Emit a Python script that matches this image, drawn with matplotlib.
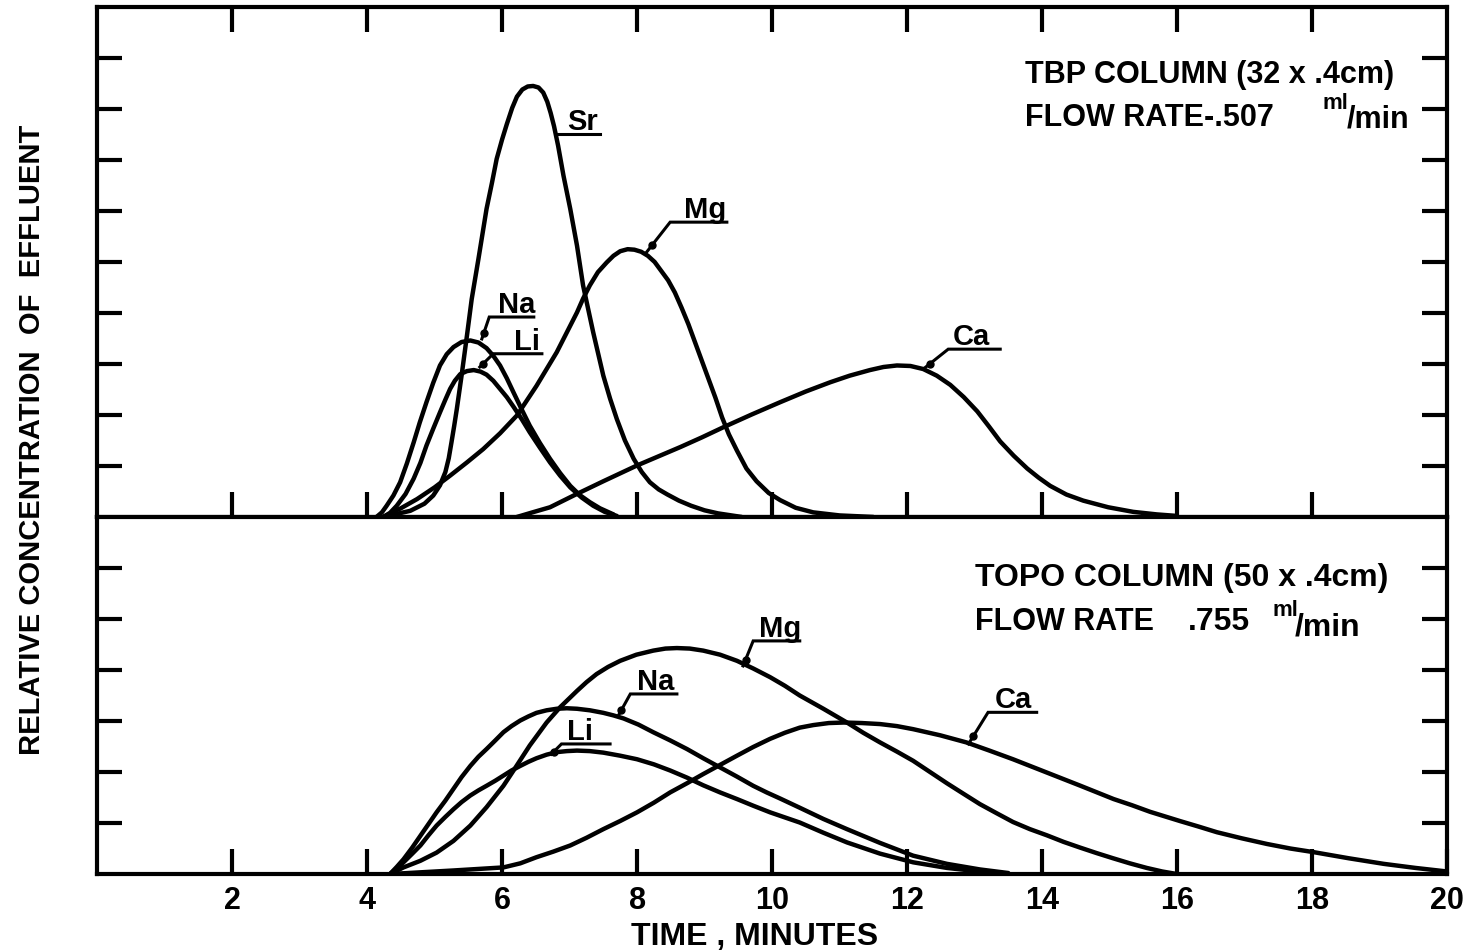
import matplotlib.pyplot as plt

plt.rcParams['font.family'] = ['Liberation Sans', 'DejaVu Sans']
plt.rcParams['font.weight'] = 'bold'

# --- TBP column (32 x .4 cm), flow rate .507 ml/min ---
# time in minutes, relative concentration in chart units
tbp_sr_t = [4.24, 4.64, 4.85, 4.98, 5.08, 5.16, 5.21, 5.25, 5.29, 5.33, 5.40, 5.48, 5.55,
            5.65, 5.77, 5.85, 5.92, 6.00, 6.07, 6.15, 6.22, 6.30, 6.38, 6.46, 6.54, 6.61,
            6.67, 6.72, 6.77, 6.83, 6.91, 7.01, 7.11, 7.20, 7.35, 7.50, 7.60, 7.70, 7.82,
            7.95, 8.07, 8.19, 8.32, 8.45, 8.62, 8.80, 9.00, 9.20, 9.55]
tbp_sr_c = [0.0, 0.12, 0.26, 0.42, 0.62, 0.88, 1.15, 1.46, 1.78, 2.12, 2.77, 3.56, 4.27,
            5.06, 6.04, 6.55, 7.02, 7.40, 7.70, 8.02, 8.24, 8.38, 8.44, 8.45, 8.42, 8.32,
            8.14, 7.92, 7.66, 7.28, 6.69, 6.04, 5.32, 4.54, 3.62, 2.77, 2.32, 1.92, 1.50,
            1.14, 0.88, 0.68, 0.54, 0.44, 0.32, 0.22, 0.13, 0.07, 0.0]

tbp_mg_t = [4.24, 4.50, 4.74, 5.00, 5.23, 5.48, 5.72, 5.97, 6.22, 6.51, 6.81, 6.96, 7.11,
            7.20, 7.30, 7.42, 7.55, 7.65, 7.75, 7.86, 7.96, 8.06, 8.16, 8.26, 8.36, 8.46,
            8.56, 8.66, 8.76, 8.86, 8.96, 9.06, 9.16, 9.26, 9.36, 9.48, 9.62, 9.77, 9.95,
            10.12, 10.35, 10.61, 11.0, 11.5]
tbp_mg_c = [0.0, 0.17, 0.35, 0.58, 0.81, 1.07, 1.33, 1.64, 1.99, 2.57, 3.23, 3.62, 4.01,
            4.28, 4.54, 4.80, 4.99, 5.12, 5.21, 5.25, 5.24, 5.20, 5.12, 5.00, 4.82, 4.64,
            4.40, 4.10, 3.78, 3.42, 3.06, 2.70, 2.34, 1.95, 1.62, 1.30, 0.95, 0.70, 0.47,
            0.33, 0.18, 0.09, 0.03, 0.0]

tbp_na_t = [4.14, 4.22, 4.29, 4.39, 4.49, 4.59, 4.69, 4.78, 4.88, 4.98, 5.08, 5.18, 5.28,
            5.40, 5.53, 5.65, 5.77, 5.87, 5.97, 6.07, 6.17, 6.29, 6.41, 6.56, 6.71, 6.86,
            7.01, 7.15, 7.30, 7.45, 7.65]
tbp_na_c = [0.0, 0.09, 0.22, 0.42, 0.68, 1.05, 1.46, 1.85, 2.25, 2.63, 2.97, 3.19, 3.33,
            3.43, 3.46, 3.42, 3.31, 3.16, 2.97, 2.72, 2.44, 2.11, 1.79, 1.45, 1.14, 0.86,
            0.61, 0.43, 0.29, 0.17, 0.05]

tbp_li_t = [4.24, 4.34, 4.44, 4.57, 4.69, 4.79, 4.88, 4.98, 5.08, 5.16, 5.23, 5.30, 5.38,
            5.48, 5.58, 5.68, 5.77, 5.87, 5.97, 6.07, 6.17, 6.29, 6.41, 6.56, 6.71, 6.86,
            7.01, 7.18, 7.35, 7.52, 7.70]
tbp_li_c = [0.0, 0.08, 0.22, 0.45, 0.75, 1.06, 1.40, 1.73, 2.05, 2.30, 2.51, 2.67, 2.80,
            2.86, 2.88, 2.85, 2.79, 2.67, 2.51, 2.35, 2.16, 1.92, 1.66, 1.36, 1.07, 0.81,
            0.58, 0.38, 0.22, 0.10, 0.02]

tbp_ca_t = [6.22, 6.45, 6.71, 7.06, 7.50, 8.00, 8.32, 8.64, 8.96, 9.28, 9.70, 10.12, 10.50,
            10.86, 11.15, 11.45, 11.65, 11.85, 12.05, 12.24, 12.44, 12.64, 12.84, 13.04,
            13.21, 13.38, 13.58, 13.78, 13.95, 14.12, 14.36, 14.61, 14.98, 15.35, 15.70,
            16.0]
tbp_ca_c = [0.0, 0.09, 0.19, 0.42, 0.70, 1.01, 1.19, 1.37, 1.56, 1.76, 2.01, 2.25, 2.46,
            2.64, 2.77, 2.88, 2.94, 2.97, 2.96, 2.90, 2.77, 2.59, 2.35, 2.07,
            1.78, 1.48, 1.20, 0.95, 0.77, 0.61, 0.44, 0.32, 0.19, 0.10, 0.05,
            0.02]

# --- TOPO column (50 x .4 cm), flow rate .755 ml/min ---
topo_mg_t = [4.34, 4.54, 4.79, 5.03, 5.28, 5.53, 5.77, 6.02, 6.17, 6.41, 6.66, 6.86, 7.11,
             7.25, 7.40, 7.57, 7.75, 7.99, 8.24, 8.42, 8.59, 8.78, 8.98, 9.23, 9.48, 9.72,
             9.97, 10.19, 10.41, 10.76, 11.11, 11.35, 11.60, 11.85, 12.09, 12.34, 12.59,
             12.84, 13.08, 13.33, 13.57, 13.82, 14.07, 14.32, 14.56, 14.81, 15.05, 15.30,
             15.55, 15.78, 16.0]
topo_mg_c = [0.0, 0.13, 0.26, 0.42, 0.65, 0.95, 1.31, 1.73, 2.03, 2.52, 2.97, 3.27, 3.59,
             3.76, 3.92, 4.06, 4.18, 4.30, 4.38, 4.42, 4.43, 4.42, 4.38, 4.30, 4.18, 4.03,
             3.86, 3.69, 3.50, 3.24, 2.97, 2.77, 2.58, 2.40, 2.22, 2.00, 1.78,
             1.57, 1.37, 1.19, 1.02, 0.88, 0.76, 0.63, 0.52, 0.41, 0.31, 0.21,
             0.12, 0.05, 0.0]

topo_na_t = [4.34, 4.44, 4.54, 4.67, 4.79, 4.91, 5.03, 5.16, 5.28, 5.40, 5.53, 5.65, 5.77,
             5.90, 6.02, 6.14, 6.27, 6.39, 6.51, 6.66, 6.81, 6.96, 7.11, 7.30, 7.50, 7.65,
             7.80, 8.02, 8.24, 8.49, 8.74, 8.98, 9.23, 9.48, 9.72, 9.92, 10.12, 10.41,
             10.76, 11.11, 11.60, 12.09, 12.59, 13.08, 13.5]
topo_na_c = [0.0, 0.14, 0.29, 0.52, 0.75, 0.98, 1.21, 1.44, 1.67, 1.90, 2.12, 2.30, 2.45,
             2.62, 2.78, 2.90, 3.01, 3.09, 3.16, 3.21, 3.24, 3.25, 3.24, 3.21, 3.16, 3.11,
             3.05, 2.93, 2.78, 2.62, 2.45, 2.27, 2.09, 1.91, 1.73, 1.60, 1.48, 1.30,
             1.08, 0.88, 0.61, 0.36, 0.20, 0.09, 0.02]

topo_li_t = [4.34, 4.44, 4.54, 4.67, 4.79, 4.91, 5.03, 5.16, 5.28, 5.40, 5.53, 5.65, 5.77,
             5.90, 6.02, 6.14, 6.27, 6.39, 6.51, 6.66, 6.81, 6.96, 7.11, 7.30, 7.50, 7.75,
             8.00, 8.25, 8.49, 8.74, 8.98, 9.23, 9.48, 9.72, 9.97, 10.19, 10.41, 10.76,
             11.11, 11.60, 12.09, 12.59, 13.08, 13.4]
topo_li_c = [0.0, 0.11, 0.23, 0.40, 0.56, 0.76, 0.95, 1.12, 1.27, 1.41, 1.54, 1.64, 1.73,
             1.83, 1.93, 2.03, 2.12, 2.20, 2.27, 2.34, 2.39, 2.41, 2.42, 2.41, 2.38, 2.32,
             2.25, 2.15, 2.03, 1.89, 1.74, 1.60, 1.47, 1.34, 1.21, 1.11, 1.01, 0.81,
             0.62, 0.40, 0.23, 0.12, 0.05, 0.0]

topo_ca_t = [4.34, 5.28, 6.02, 6.27, 6.51, 6.76, 7.01, 7.25, 7.50, 7.75, 8.00, 8.25, 8.49,
             8.74, 8.98, 9.23, 9.48, 9.72, 9.97, 10.19, 10.41, 10.61, 10.84, 11.06, 11.33,
             11.60, 11.85, 12.09, 12.49, 12.88, 13.22, 13.57, 13.82, 14.07, 14.57, 15.06,
             15.33, 15.60, 15.82, 16.04, 16.32, 16.59, 16.96, 17.33, 17.68, 18.02, 18.54,
             19.06, 19.53, 20.0]
topo_ca_c = [0.0, 0.07, 0.13, 0.21, 0.33, 0.44, 0.56, 0.71, 0.88, 1.04, 1.21, 1.40, 1.60,
             1.78, 1.96, 2.14, 2.32, 2.49, 2.65, 2.77, 2.87, 2.92, 2.96, 2.97, 2.96,
             2.94, 2.90, 2.84, 2.72, 2.58, 2.42, 2.25, 2.12, 1.99, 1.73, 1.47,
             1.35, 1.22, 1.13, 1.04, 0.93, 0.82, 0.70, 0.59, 0.50, 0.43, 0.31,
             0.20, 0.12, 0.05]

time_ticks = [2, 4, 6, 8, 10, 12, 14, 16, 18, 20]
time_labels = ['2', '4', '6', '8', '10', '12', '14', '16', '18', '20']

# label placement: curve point, knee of the leader, end of underline, text centre x
tbp_tags = [
    ('Sr', (6.82, 7.51), (6.82, 7.51), (7.45, 7.51), 7.19),
    ('Mg', (8.14, 5.19), (8.49, 5.78), (9.33, 5.78), 9.01),
    ('Na', (5.70, 3.49), (5.81, 3.92), (6.47, 3.92), 6.21),
    ('Li', (5.67, 2.94), (5.87, 3.20), (6.59, 3.20), 6.37),
    ('Ca', (12.24, 2.90), (12.61, 3.29), (13.38, 3.29), 12.96),
]
topo_tags = [
    ('Mg', (9.57, 4.08), (9.72, 4.57), (10.41, 4.57), 10.12),
    ('Na', (7.72, 3.10), (7.90, 3.53), (8.59, 3.53), 8.27),
    ('Li', (6.73, 2.35), (6.88, 2.55), (7.60, 2.55), 7.16),
    ('Ca', (12.91, 2.55), (13.20, 3.17), (13.92, 3.17), 13.57),
]


def tag(ax, name, tip, knee, end, tx):
    ax.plot([tip[0], knee[0], end[0]], [tip[1], knee[1], end[1]],
            color='black', lw=2.2, solid_joinstyle='miter')
    if knee != tip:
        bx = tip[0] + 0.25 * (knee[0] - tip[0])
        by = tip[1] + 0.25 * (knee[1] - tip[1])
        ax.plot(bx, by, 'o', color='black', ms=5)
    ax.text(tx, end[1] + 0.1, name, ha='center', va='baseline', fontsize=21)


fig = plt.figure(figsize=(14.73, 9.53), dpi=100)
ax_tbp = fig.add_axes([0.0659, 0.4565, 0.9165, 0.5352])
ax_topo = fig.add_axes([0.0659, 0.0818, 0.9165, 0.3747])

for ax, ymax in ((ax_tbp, 10), (ax_topo, 7)):
    ax.set_xlim(0, 20)
    ax.set_ylim(0, ymax)
    ax.set_yticks(range(1, ymax))
    for s in ax.spines.values():
        s.set_linewidth(3)
    ax.tick_params(direction='in', length=18, width=3, left=True, right=True,
                   labelleft=False)

ax_tbp.set_xticks(time_ticks[:-1])
ax_tbp.tick_params(axis='x', top=True, bottom=True, labelbottom=False)
ax_topo.set_xticks(time_ticks)
ax_topo.set_xticklabels(time_labels)
ax_topo.tick_params(axis='x', top=False, bottom=True, labelsize=22, pad=8)

curve_style = dict(color='black', lw=3.2, solid_joinstyle='round', solid_capstyle='round')
for t, c in ((tbp_sr_t, tbp_sr_c), (tbp_mg_t, tbp_mg_c), (tbp_na_t, tbp_na_c),
             (tbp_li_t, tbp_li_c), (tbp_ca_t, tbp_ca_c)):
    ax_tbp.plot(t, c, **curve_style)
for t, c in ((topo_mg_t, topo_mg_c), (topo_na_t, topo_na_c),
             (topo_li_t, topo_li_c), (topo_ca_t, topo_ca_c)):
    ax_topo.plot(t, c, **curve_style)

for name, tip, knee, end, tx in tbp_tags:
    tag(ax_tbp, name, tip, knee, end, tx)
for name, tip, knee, end, tx in topo_tags:
    tag(ax_topo, name, tip, knee, end, tx)

# column conditions
ax_tbp.text(13.75, 8.68, 'TBP COLUMN (32 x .4cm)', fontsize=22, va='center')
ax_tbp.text(13.75, 7.85, 'FLOW RATE-.507', fontsize=22, va='center')
ax_tbp.text(18.15, 8.12, 'ml', fontsize=16, va='center')
ax_tbp.text(18.52, 7.82, '/min', fontsize=22, va='center')

ax_topo.text(13.0, 5.82, 'TOPO COLUMN (50 x .4cm)', fontsize=23, va='center')
ax_topo.text(13.0, 4.96, 'FLOW RATE', fontsize=22, va='center')
ax_topo.text(16.16, 4.96, '.755', fontsize=23, va='center')
ax_topo.text(17.41, 5.18, 'ml', fontsize=16, va='center')
ax_topo.text(17.74, 4.86, '/min', fontsize=23, va='center')

fig.text(0.5126, 0.0168, 'TIME , MINUTES', ha='center', va='center', fontsize=23)
fig.text(0.0217, 0.5383, 'RELATIVE CONCENTRATION  OF  EFFLUENT', ha='center',
         va='center', rotation=90, fontsize=21)

fig.savefig('out.png', dpi=100)
